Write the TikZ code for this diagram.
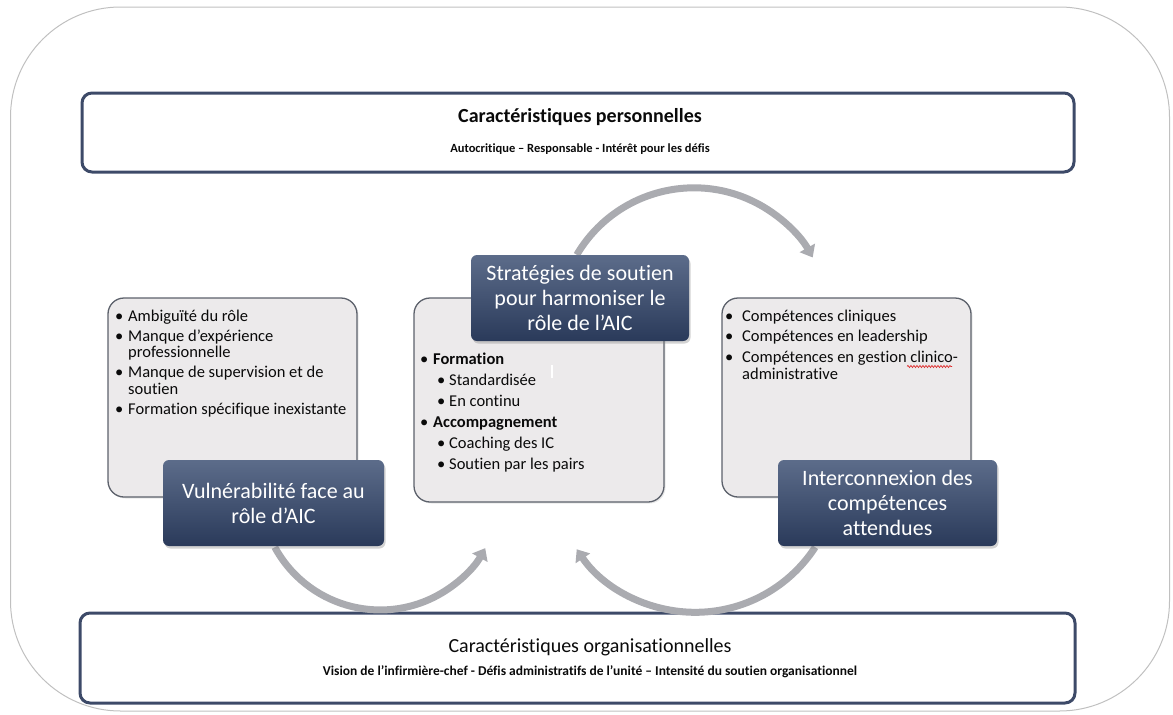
\documentclass[tikz,border=0pt]{standalone}
\usepackage{graphicx}
\usepackage{fontspec}
\setmainfont{Carlito}[Ligatures=NoCommon]
\usetikzlibrary{arrows.meta,shadows,calc,decorations.pathmorphing}
\definecolor{darktop}{RGB}{92,108,138}
\definecolor{darkbot}{RGB}{42,58,90}
\definecolor{navyline}{RGB}{61,74,104}
\definecolor{lightfill}{RGB}{236,234,235}
\definecolor{lightline}{RGB}{92,97,107}
\definecolor{arcgray}{RGB}{170,171,176}
\definecolor{framegray}{RGB}{192,192,192}
\definecolor{txt}{RGB}{10,10,10}
\definecolor{spellred}{RGB}{220,40,40}
\pgfdeclarelayer{back}
\pgfdeclarelayer{arcs}
\pgfsetlayers{back,arcs,main}
\newcommand{\mybul}[1][13pt]{\makebox[#1][l]{•}}
\newcommand{\firstline}{\rule{0pt}{13pt}}
\begin{document}
\begin{tikzpicture}[x=1pt,y=-1pt,
  outerframe/.style={draw=framegray, line width=1pt, rounded corners=110pt, inner sep=0pt},
  bandbox/.style={draw=navyline, line width=3pt, rounded corners=10pt, inner sep=0pt},
  lightbox/.style={draw=lightline, fill=lightfill, line width=1.3pt, rounded corners=16pt, inner sep=0pt,
     drop shadow={opacity=0.18, shadow xshift=1.5pt, shadow yshift=-1.5pt}},
  darkbox/.style={rounded corners=6pt, top color=darktop, bottom color=darkbot, text=white,
     align=center, inner sep=0pt, font=\fontsize{22}{25}\selectfont,
     drop shadow={opacity=0.35, shadow xshift=1.5pt, shadow yshift=-2.5pt}},
  ltext/.style={anchor=north west, inner sep=0pt, align=left, text=txt},
  arcarrow/.style={draw=arcgray, line width=7pt, -{Triangle[width=17pt,length=11pt]}},
  ttl/.style={inner sep=0pt, text=txt}
]
\useasboundingbox (0,0) rectangle (1173,715);

% outer frame and bands
\begin{pgfonlayer}{back}
\node[outerframe, minimum width=1159pt, minimum height=704pt] (frame) at (590,359) {};
\node[bandbox, minimum width=992pt, minimum height=79pt] (top) at (578,132.5) {};
\node[bandbox, minimum width=995pt, minimum height=90pt] (bottom) at (577.5,658) {};
\end{pgfonlayer}

\node[ttl, font=\bfseries\fontsize{20}{20}\selectfont] (toptitle) at (580,117)
  {Caractéristiques personnelles};
\node[ttl, font=\bfseries\fontsize{12.5}{12.5}\selectfont] (topsub) at (580,149)
  {Autocritique – Responsable - Intérêt pour les défis};
\node[ttl, font=\fontsize{20}{20}\selectfont] (bottitle) at (590,647)
  {Caractéristiques organisationnelles};
\node[ttl, font=\bfseries\fontsize{13.5}{13.5}\selectfont] (botsub) at (590,672)
  {Vision de l’infirmière-chef - Défis administratifs de l’unité – Intensité du soutien organisationnel};

% light boxes
\node[lightbox, minimum width=249pt, minimum height=199pt] (lb1) at (232.5,397.5) {};
\node[lightbox, minimum width=250pt, minimum height=204pt] (lb2) at (539,400) {};
\node[lightbox, minimum width=249pt, minimum height=199pt] (lb3) at (846.5,397.5) {};

\node[ltext, font=\fontsize{16.5}{16.5}\selectfont] (t1) at (115,308) {%
\firstline\mybul Ambiguïté du rôle\\[3.5pt]
\mybul Manque d’expérience\\
\hspace*{13pt}professionnelle\\[3.5pt]
\mybul Manque de supervision et de\\
\hspace*{13pt}soutien\\[3.5pt]
\mybul Formation spécifique inexistante};

\node[ltext, font=\fontsize{16.5}{21}\selectfont] (t2) at (420,351) {%
\firstline\mybul[13pt]\textbf{Formation}\\
\hspace*{17pt}\mybul[12pt]Standardisée\\
\hspace*{17pt}\mybul[12pt]En continu\\
\mybul[13pt]\textbf{Accompagnement}\\
\hspace*{17pt}\mybul[12pt]Coaching des IC\\
\hspace*{17pt}\mybul[12pt]Soutien par les pairs};
\draw[white, line width=1.5pt] (552,365) -- (552,378);

\node[ltext, font=\fontsize{16.5}{17}\selectfont] (t3) at (725,308) {%
\firstline\mybul[17pt]Compétences cliniques\\[3.5pt]
\mybul[17pt]Compétences en leadership\\[3.5pt]
\mybul[17pt]Compétences en gestion clinico-\\
\hspace*{17pt}administrative};
\draw[spellred, line width=0.7pt, decorate, decoration={snake, amplitude=1pt, segment length=3pt}]
  (907,366.5) -- (952,366.5);

% dark boxes
\node[darkbox, minimum width=221pt, minimum height=86pt] (db1) at (273.5,503)
  {Vulnérabilité face au\\rôle d’AIC};
\node[darkbox, minimum width=218pt, minimum height=86pt] (db2) at (580,298)
  {Stratégies de soutien\\pour harmoniser le\\rôle de l’AIC};
\node[darkbox, minimum width=219pt, minimum height=86pt] (db3) at (887.5,503)
  {Interconnexion des\\compétences\\attendues};

% arcs
\coordinate (s1) at ($(db2.north west)+(106,0)$);
\coordinate (s2) at ($(db1.south west)+(112,1)$);
\coordinate (s3) at ($(db3.south east)+(-182,1)$);
\begin{pgfonlayer}{arcs}
\draw[arcarrow] (s1) arc[start angle=-149.5, end angle=-29.2, radius=136];
\draw[arcarrow] (s2) arc[start angle=151.5, end angle=29, radius=120];
\draw[arcarrow] (s3) arc[start angle=33, end angle=146, radius=143];
\end{pgfonlayer}
\end{tikzpicture}
\end{document}
